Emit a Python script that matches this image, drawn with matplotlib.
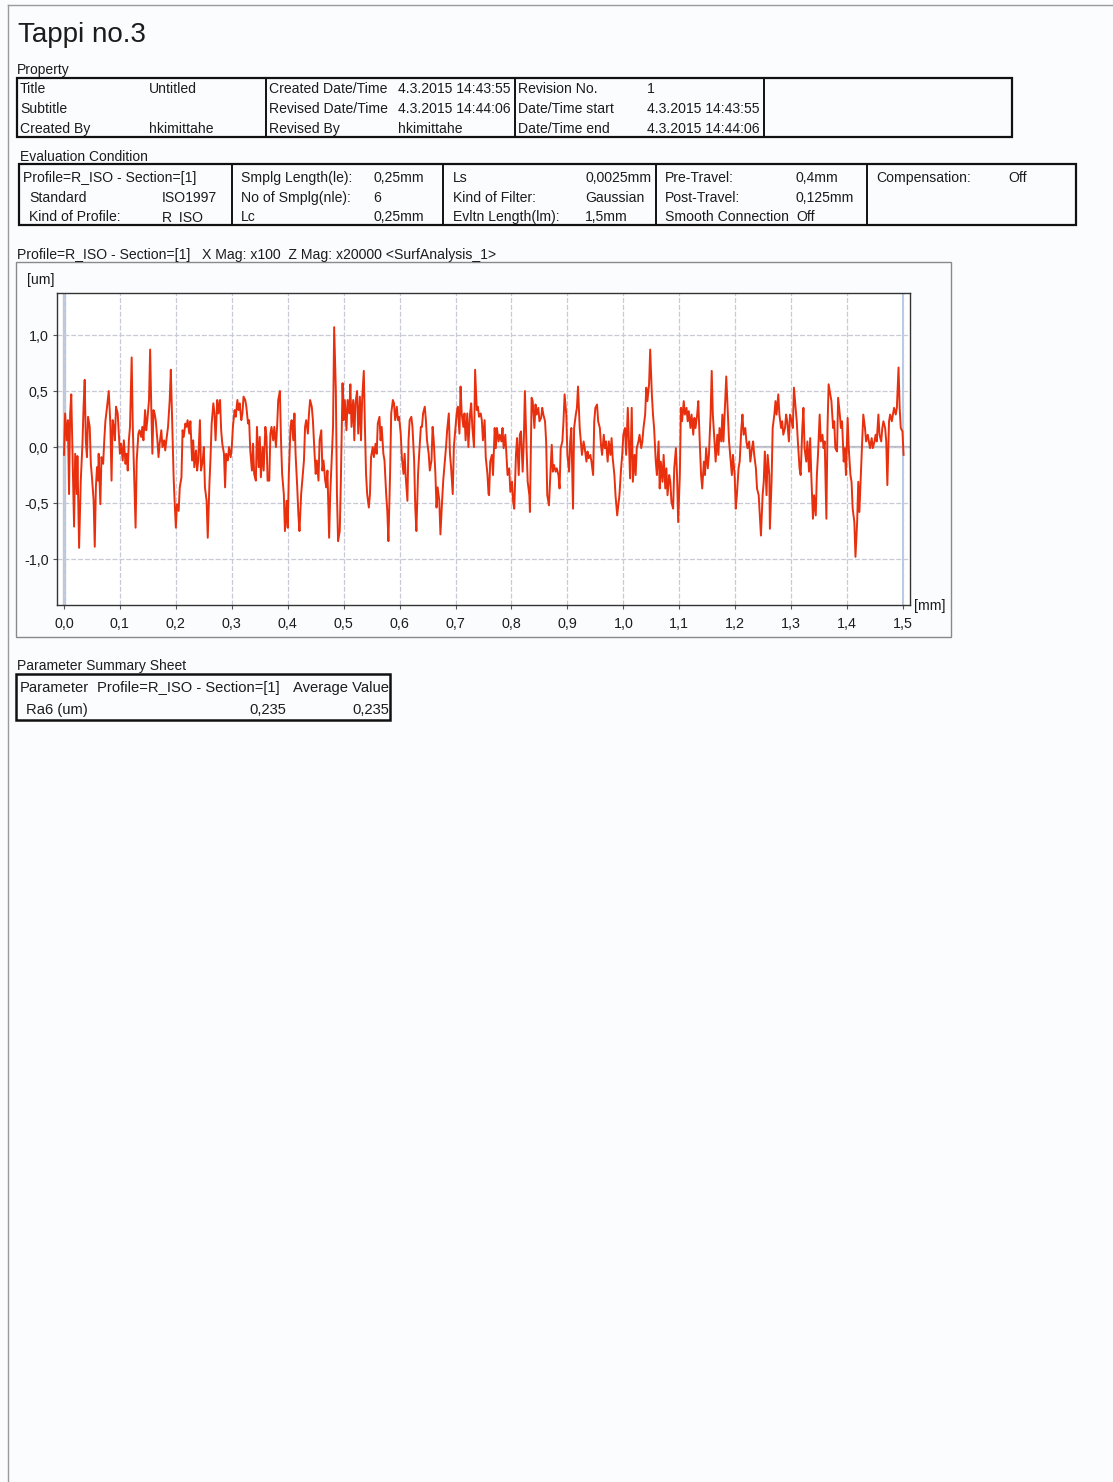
import matplotlib
matplotlib.use("Agg")
import matplotlib.pyplot as plt
from matplotlib.patches import Rectangle
import numpy as np

plt.rcParams['font.family'] = ['Liberation Sans', 'DejaVu Sans']

INK = "#1c1c1c"
LINE_RED = "#e8300f"

# --- document text ---
doc_title = "Tappi no.3"

prop_col1 = [("Title", "Untitled"), ("Subtitle", ""), ("Created By", "hkimittahe")]
prop_col2 = [("Created Date/Time", "4.3.2015 14:43:55"),
             ("Revised Date/Time", "4.3.2015 14:44:06"),
             ("Revised By", "hkimittahe")]
prop_col3 = [("Revision No.", "1"),
             ("Date/Time start", "4.3.2015 14:43:55"),
             ("Date/Time end", "4.3.2015 14:44:06")]

eval_head = "Profile=R_ISO - Section=[1]"
eval_col1 = [("Standard", "ISO1997"), ("Kind of Profile:", "R_ISO")]
eval_col2 = [("Smplg Length(le):", "0,25mm"), ("No of Smplg(nle):", "6"), ("Lc", "0,25mm")]
eval_col3 = [("Ls", "0,0025mm"), ("Kind of Filter:", "Gaussian"), ("Evltn Length(lm):", "1,5mm")]
eval_col4 = [("Pre-Travel:", "0,4mm"), ("Post-Travel:", "0,125mm"), ("Smooth Connection", "Off")]
eval_col5 = [("Compensation:", "Off")]

chart_caption = "Profile=R_ISO - Section=[1]   X Mag: x100  Z Mag: x20000 <SurfAnalysis_1>"

summary_header = ["Parameter", "Profile=R_ISO - Section=[1]", "Average Value"]
summary_param = "Ra6 (um)"
summary_section_value = "0,235"
summary_average_value = "0,235"

x_ticks = [0.0, 0.1, 0.2, 0.3, 0.4, 0.5, 0.6, 0.7, 0.8, 0.9, 1.0, 1.1, 1.2, 1.3, 1.4, 1.5]
x_tick_labels = ["0,0", "0,1", "0,2", "0,3", "0,4", "0,5", "0,6", "0,7",
                 "0,8", "0,9", "1,0", "1,1", "1,2", "1,3", "1,4", "1,5"]
y_ticks = [-1.0, -0.5, 0.0, 0.5, 1.0]
y_tick_labels = ["-1,0", "-0,5", "0,0", "0,5", "1,0"]

# --- roughness profile (x in mm, z in um) ---
profile_x_mm = [
    0.000, 0.002, 0.005, 0.007, 0.009, 0.011, 0.013, 0.016, 0.018, 0.020,
    0.023, 0.024, 0.027, 0.030, 0.033, 0.035, 0.037, 0.039, 0.041, 0.043,
    0.046, 0.048, 0.050, 0.053, 0.055, 0.057, 0.059, 0.061, 0.062, 0.065,
    0.067, 0.070, 0.072, 0.074, 0.077, 0.080, 0.082, 0.083, 0.085, 0.087,
    0.089, 0.091, 0.093, 0.096, 0.098, 0.100, 0.102, 0.105, 0.107, 0.110,
    0.112, 0.114, 0.116, 0.118, 0.121, 0.123, 0.126, 0.128, 0.130, 0.133,
    0.135, 0.138, 0.140, 0.142, 0.145, 0.147, 0.149, 0.152, 0.154, 0.156,
    0.158, 0.160, 0.162, 0.164, 0.167, 0.169, 0.171, 0.174, 0.176, 0.179,
    0.181, 0.183, 0.186, 0.189, 0.191, 0.194, 0.196, 0.198, 0.200, 0.202,
    0.205, 0.207, 0.210, 0.212, 0.214, 0.217, 0.219, 0.221, 0.224, 0.226,
    0.229, 0.231, 0.233, 0.236, 0.238, 0.240, 0.243, 0.245, 0.248, 0.250,
    0.252, 0.255, 0.257, 0.260, 0.262, 0.264, 0.267, 0.269, 0.271, 0.274,
    0.276, 0.279, 0.281, 0.283, 0.286, 0.288, 0.290, 0.293, 0.295, 0.298,
    0.300, 0.302, 0.305, 0.307, 0.310, 0.312, 0.314, 0.317, 0.319, 0.321,
    0.324, 0.326, 0.329, 0.331, 0.333, 0.336, 0.338, 0.340, 0.343, 0.345,
    0.348, 0.350, 0.352, 0.355, 0.357, 0.360, 0.362, 0.364, 0.367, 0.369,
    0.371, 0.374, 0.376, 0.379, 0.381, 0.383, 0.386, 0.388, 0.390, 0.393,
    0.395, 0.398, 0.400, 0.402, 0.405, 0.407, 0.410, 0.412, 0.414, 0.417,
    0.419, 0.421, 0.424, 0.426, 0.429, 0.431, 0.433, 0.436, 0.438, 0.440,
    0.443, 0.445, 0.448, 0.450, 0.452, 0.455, 0.457, 0.460, 0.462, 0.464,
    0.467, 0.469, 0.471, 0.474, 0.476, 0.479, 0.481, 0.483, 0.486, 0.488,
    0.490, 0.493, 0.495, 0.498, 0.500, 0.502, 0.505, 0.507, 0.510, 0.512,
    0.514, 0.517, 0.519, 0.521, 0.524, 0.526, 0.529, 0.531, 0.533, 0.536,
    0.538, 0.540, 0.542, 0.545, 0.547, 0.549, 0.552, 0.554, 0.557, 0.559,
    0.561, 0.564, 0.566, 0.568, 0.571, 0.573, 0.576, 0.578, 0.580, 0.583,
    0.585, 0.588, 0.590, 0.592, 0.595, 0.597, 0.599, 0.602, 0.604, 0.607,
    0.609, 0.611, 0.614, 0.616, 0.618, 0.621, 0.623, 0.626, 0.628, 0.630,
    0.633, 0.635, 0.638, 0.640, 0.642, 0.645, 0.647, 0.649, 0.652, 0.654,
    0.657, 0.659, 0.661, 0.664, 0.666, 0.668, 0.671, 0.673, 0.676, 0.678,
    0.680, 0.683, 0.685, 0.688, 0.690, 0.692, 0.695, 0.697, 0.699, 0.702,
    0.704, 0.707, 0.709, 0.711, 0.714, 0.716, 0.718, 0.721, 0.723, 0.726,
    0.728, 0.730, 0.733, 0.735, 0.738, 0.740, 0.742, 0.745, 0.747, 0.749,
    0.752, 0.754, 0.757, 0.759,
    0.760, 0.762, 0.765, 0.767, 0.770, 0.772, 0.774, 0.777, 0.779, 0.782,
    0.784, 0.786, 0.789, 0.791, 0.793, 0.796, 0.798, 0.801, 0.803, 0.805,
    0.808, 0.810, 0.813, 0.815, 0.817, 0.820, 0.822, 0.824, 0.827, 0.829,
    0.832, 0.833, 0.836, 0.838, 0.841, 0.843, 0.845, 0.848, 0.850, 0.853,
    0.855, 0.857, 0.860, 0.862, 0.864, 0.867, 0.869, 0.872, 0.874, 0.876,
    0.879, 0.881, 0.884, 0.886, 0.888, 0.891, 0.893, 0.895, 0.898, 0.900,
    0.903, 0.905, 0.907, 0.910, 0.912, 0.915, 0.917, 0.919, 0.922, 0.924,
    0.926, 0.929, 0.931, 0.934, 0.936, 0.938, 0.941, 0.943, 0.946, 0.948,
    0.950, 0.953, 0.955, 0.958, 0.960, 0.962, 0.965, 0.967, 0.969, 0.972,
    0.974, 0.977, 0.979, 0.981, 0.984, 0.986, 0.989, 0.991, 0.993, 0.996,
    0.998, 1.000, 1.003, 1.005, 1.008, 1.010, 1.012, 1.015, 1.017, 1.020,
    1.022, 1.024, 1.027, 1.029, 1.032, 1.034, 1.036, 1.039, 1.041, 1.043,
    1.046, 1.048, 1.051, 1.053, 1.055, 1.058, 1.060, 1.063, 1.065, 1.067,
    1.070, 1.072, 1.075, 1.077, 1.079, 1.082, 1.084, 1.086, 1.089, 1.091,
    1.094, 1.096, 1.098, 1.101, 1.103, 1.105, 1.108, 1.110, 1.113, 1.115,
    1.117, 1.120, 1.122, 1.125, 1.127, 1.129, 1.132, 1.134, 1.137, 1.139,
    1.141, 1.144, 1.146, 1.148, 1.151, 1.153, 1.156, 1.158, 1.160, 1.163,
    1.165, 1.168, 1.170, 1.172, 1.175, 1.177, 1.179, 1.182, 1.184, 1.187,
    1.189, 1.191, 1.194, 1.196, 1.199, 1.201, 1.203, 1.206, 1.208, 1.211,
    1.213, 1.215, 1.218, 1.220, 1.222, 1.225, 1.227, 1.230, 1.232, 1.234,
    1.237, 1.239, 1.242, 1.244, 1.246, 1.249, 1.251, 1.253, 1.256, 1.258,
    1.261, 1.262, 1.265, 1.267, 1.270, 1.272, 1.274, 1.277, 1.279, 1.282,
    1.284, 1.286, 1.289, 1.291, 1.293, 1.296, 1.298, 1.301, 1.303, 1.305,
    1.308, 1.310, 1.312, 1.315, 1.317, 1.320, 1.322, 1.324, 1.327, 1.329,
    1.332, 1.334, 1.336, 1.339, 1.341, 1.344, 1.346, 1.348, 1.351, 1.353,
    1.356, 1.358, 1.360, 1.363, 1.365, 1.367, 1.370, 1.372, 1.375, 1.377,
    1.379, 1.382, 1.384, 1.387, 1.389, 1.391, 1.394, 1.396, 1.398, 1.401,
    1.403, 1.406, 1.408, 1.410, 1.413, 1.415, 1.418, 1.420, 1.422, 1.425,
    1.427, 1.429, 1.432, 1.434, 1.437, 1.439, 1.441, 1.444, 1.446, 1.449,
    1.451, 1.453, 1.456, 1.458, 1.461, 1.463, 1.465, 1.468, 1.470, 1.472,
    1.475, 1.477, 1.480, 1.482, 1.484, 1.487, 1.489, 1.492, 1.494, 1.496,
    1.499, 1.501,
]
profile_z_um = [
    -0.07, 0.30, 0.06, 0.24, -0.42, 0.30, 0.47, -0.24, -0.71, -0.06,
    -0.42, -0.08, -0.90, -0.30, 0.03, 0.36, 0.60, 0.06, -0.09, 0.27,
    0.18, -0.15, -0.27, -0.48, -0.89, -0.36, -0.18, -0.30, -0.06, -0.51,
    -0.09, -0.15, 0.06, 0.23, 0.36, 0.50, 0.30, 0.18, -0.30, 0.24,
    0.18, 0.06, 0.36, 0.30, 0.12, -0.06, 0.03, -0.12, 0.06, -0.15,
    -0.06, -0.21, 0.06, 0.18, 0.80, 0.18, -0.36, -0.72, -0.12, 0.12,
    0.15, 0.09, 0.18, 0.06, 0.33, 0.15, 0.24, 0.42, 0.87, 0.36,
    -0.06, 0.33, 0.30, 0.24, 0.06, -0.09, 0.03, 0.15, 0.00, 0.06,
    -0.03, 0.06, 0.18, 0.42, 0.69, 0.12, -0.27, -0.51, -0.72, -0.51,
    -0.57, -0.36, -0.27, 0.15, 0.09, 0.21, 0.18, 0.24, 0.12, 0.23,
    -0.12, 0.06, -0.18, -0.03, -0.21, -0.12, 0.24, -0.21, -0.12, 0.00,
    -0.36, -0.48, -0.81, -0.33, -0.09, 0.21, 0.39, 0.30, 0.06, 0.42,
    0.30, 0.42, 0.15, 0.03, -0.06, -0.36, -0.06, -0.12, 0.00, -0.09,
    0.00, 0.18, 0.33, 0.27, 0.42, 0.33, 0.39, 0.24, 0.30, 0.45,
    0.42, 0.36, 0.21, 0.24, -0.03, -0.21, 0.03, -0.24, -0.30, 0.18,
    -0.18, 0.09, -0.27, 0.00, -0.21, 0.18, 0.09, -0.30, -0.30, 0.12,
    0.18, 0.06, 0.18, 0.00, 0.18, 0.42, 0.50, 0.06, -0.24, -0.42,
    -0.75, -0.48, -0.72, -0.24, 0.18, 0.24, 0.06, 0.30, -0.06, -0.36,
    -0.60, -0.75, -0.42, -0.30, -0.12, 0.18, 0.24, 0.12, 0.30, 0.42,
    0.36, 0.24, -0.06, -0.24, -0.12, -0.30, 0.06, 0.15, -0.21, -0.12,
    -0.30, -0.36, -0.21, -0.81, -0.42, -0.06, 0.18, 1.07, 0.51, -0.42,
    -0.84, -0.75, -0.30, 0.57, 0.24, 0.42, 0.15, 0.42, 0.30, 0.56,
    0.18, 0.42, 0.06, 0.39, 0.50, 0.12, 0.45, 0.06, 0.42, 0.68,
    0.18, -0.24, -0.42, -0.54, -0.42, -0.09, 0.00, -0.09, 0.03, -0.06,
    0.21, 0.27, 0.06, 0.18, -0.06, -0.12, -0.42, -0.57, -0.84, -0.24,
    0.30, 0.42, 0.39, 0.24, 0.36, 0.24, 0.27, 0.12, -0.09, -0.24,
    -0.06, -0.27, -0.48, 0.06, 0.24, 0.27, 0.18, -0.12, -0.54, -0.75,
    -0.24, -0.06, 0.18, 0.18, 0.30, 0.36, 0.24, 0.06, -0.06, -0.21,
    -0.12, 0.18, 0.06, -0.24, -0.54, -0.36, -0.48, -0.78, -0.48, -0.30,
    -0.18, 0.00, 0.15, 0.30, -0.06, -0.18, -0.42, 0.00, 0.12, 0.30,
    0.36, 0.12, 0.54, 0.30, 0.18, 0.30, 0.06, 0.30, 0.00, 0.30,
    0.39, 0.18, 0.00, 0.69, 0.33, 0.36, 0.27, 0.30, 0.24, 0.06,
    0.24, -0.09, -0.24, -0.42,
    -0.43, -0.13, -0.07, -0.25, 0.17, -0.01, 0.17, 0.05, 0.11, 0.05,
    0.17, -0.01, 0.11, -0.07, -0.25, -0.19, -0.40, -0.31, -0.49, -0.55,
    -0.07, 0.08, -0.25, 0.11, 0.14, -0.22, 0.05, 0.50, -0.01, -0.31,
    -0.43, -0.58, 0.44, 0.41, 0.17, 0.38, 0.29, 0.35, 0.23, 0.26,
    0.35, 0.29, 0.23, 0.05, -0.43, -0.52, -0.31, 0.02, -0.22, -0.16,
    -0.22, -0.19, -0.25, -0.37, -0.01, 0.05, 0.23, 0.47, 0.29, -0.07,
    -0.22, 0.05, 0.17, -0.55, 0.17, 0.29, 0.35, 0.54, 0.17, 0.05,
    -0.07, 0.05, -0.01, -0.13, -0.04, -0.10, -0.07, -0.13, -0.25, 0.23,
    0.35, 0.38, 0.23, 0.17, 0.02, -0.07, 0.11, -0.01, 0.05, -0.13,
    0.05, -0.07, 0.08, -0.10, -0.25, -0.43, -0.61, -0.52, -0.43, -0.19,
    -0.07, 0.11, 0.17, -0.07, 0.35, 0.05, -0.28, 0.35, -0.31, -0.07,
    -0.25, -0.01, 0.05, 0.11, -0.01, 0.05, 0.17, 0.29, 0.53, 0.41,
    0.56, 0.87, 0.47, 0.29, 0.17, -0.13, -0.25, 0.05, -0.37, -0.13,
    -0.31, -0.07, -0.37, -0.19, -0.43, -0.25, -0.31, -0.49, -0.55, -0.19,
    -0.01, -0.25, -0.67, -0.25, 0.35, 0.23, 0.41, 0.29, 0.35, 0.23,
    0.32, 0.17, 0.29, 0.11, 0.26, 0.17, 0.29, 0.41, -0.01, -0.25,
    -0.37, -0.13, -0.25, -0.01, -0.19, -0.07, 0.29, 0.68, 0.29, 0.05,
    -0.13, 0.11, -0.07, 0.17, 0.05, 0.29, 0.05, 0.41, 0.63, 0.29,
    0.05, -0.07, -0.25, -0.07, -0.25, -0.55, -0.43, -0.19, -0.13, 0.17,
    0.29, 0.11, 0.17, 0.05, -0.01, 0.05, -0.13, -0.01, 0.05, -0.07,
    -0.19, -0.37, -0.43, -0.61, -0.79, -0.43, -0.31, -0.04, -0.43, -0.07,
    -0.25, -0.73, -0.31, 0.17, 0.29, 0.41, 0.29, 0.47, 0.29, 0.17,
    0.23, 0.11, 0.17, 0.29, 0.23, 0.05, 0.29, 0.23, 0.17, 0.53,
    0.35, 0.23, 0.05, -0.19, -0.25, 0.17, 0.35, -0.01, -0.13, 0.05,
    -0.22, 0.08, -0.25, -0.64, -0.43, -0.61, -0.25, -0.07, 0.29, 0.05,
    0.11, -0.01, 0.05, -0.64, 0.17, 0.56, 0.47, 0.41, 0.17, 0.23,
    -0.01, -0.04, 0.44, 0.29, 0.17, 0.23, -0.13, -0.01, -0.25, 0.26,
    -0.01, -0.25, -0.31, -0.55, -0.67, -0.98, -0.67, -0.31, -0.58, -0.19,
    0.05, 0.29, 0.17, 0.05, 0.11, 0.05, -0.01, 0.08, -0.01, 0.05,
    0.11, 0.05, 0.29, 0.11, 0.05, 0.17, 0.23, 0.17, 0.05, -0.34,
    0.23, 0.29, 0.23, 0.29, 0.35, 0.29, 0.35, 0.71, 0.35, 0.17,
    0.14, -0.07,
]

# ------------------------------------------------------------------
W, H = 1113, 1482
fig = plt.figure(figsize=(W / 100, H / 100), dpi=100)
fig.patch.set_facecolor("#fbfcfd")

# page layer in pixel coords (y down)
page = fig.add_axes([0, 0, 1, 1])
page.set_xlim(0, W)
page.set_ylim(H, 0)
page.axis("off")

TS = 10.1   # table / caption text size


def txt(x, y, s, size=TS, ha="left", **kw):
    page.text(x, y, s, fontsize=size, ha=ha, va="center", color=INK, **kw)


def box(x0, y0, x1, y1, lw=1.6, ec="#111111"):
    page.add_patch(Rectangle((x0, y0), x1 - x0, y1 - y0, fill=False,
                             lw=lw, ec=ec, zorder=2))


def vline(x, y0, y1, lw=1.4):
    page.plot([x, x], [y0, y1], color="#111111", lw=lw)


# scan edges
page.plot([8, W], [5, 5], color="#9a9a9a", lw=1.0)
page.plot([8, 8], [5, H], color="#9a9a9a", lw=1.0)

txt(18, 35, doc_title, size=20)

# --- Property table ---
txt(17, 70, "Property", size=10)
box(17, 78, 1012, 137)
for xd in (266, 515, 764):
    vline(xd, 78, 137)
rows_y = [89, 109, 129]
for (lab, val), y in zip(prop_col1, rows_y):
    txt(20, y, lab)
    txt(149, y, val)
for (lab, val), y in zip(prop_col2, rows_y):
    txt(269, y, lab)
    txt(398, y, val)
for (lab, val), y in zip(prop_col3, rows_y):
    txt(518, y, lab)
    txt(647, y, val)

# --- Evaluation condition table ---
txt(20, 157, "Evaluation Condition", size=10)
box(19, 164, 1076, 225)
for xd in (232, 443, 656, 867):
    vline(xd, 164, 225)
ev_y = [178, 198, 217]
txt(23, ev_y[0], eval_head)
for (lab, val), y in zip(eval_col1, ev_y[1:]):
    txt(29, y, lab)
    txt(162, y, val)
for (lab, val), y in zip(eval_col2, ev_y):
    txt(241, y, lab)
    txt(373, y, val)
for (lab, val), y in zip(eval_col3, ev_y):
    txt(453, y, lab)
    txt(585, y, val)
for (lab, val), y in zip(eval_col4, ev_y):
    txt(665, y, lab)
    txt(796, y, val)
for (lab, val), y in zip(eval_col5, ev_y):
    txt(876, y, lab)
    txt(1008, y, val)

# --- chart frame & captions ---
txt(17, 255, chart_caption)
box(16, 262, 951, 637, lw=1.0, ec="#8a8a8a")
txt(27, 280, "[um]")
txt(914, 606, "[mm]")

# --- profile axes ---
L, R, T, B = 57, 910, 293, 605
ax = fig.add_axes([L / W, 1 - B / H, (R - L) / W, (B - T) / H])
ax.set_facecolor("white")
ax.set_xlim(-0.0125, 1.5125)
ax.set_ylim(-1.41, 1.375)

ax.set_xticks(x_ticks)
ax.set_xticklabels(x_tick_labels)
ax.set_yticks(y_ticks)
ax.set_yticklabels(y_tick_labels)
ax.tick_params(axis="both", labelsize=10.3, colors="#555555", labelcolor=INK,
               length=3, width=0.8)
ax.tick_params(axis="x", pad=6)
ax.tick_params(axis="y", pad=3)
ax.grid(True, color="#c8cbd6", lw=0.9, ls=(0, (4, 1.5)))
ax.axhline(0.0, color="#b9bcc6", lw=1.6, zorder=1)
ax.axvline(0.0, color="#b4c8e6", lw=2.4, zorder=1)
ax.axvline(1.5, color="#b4c8e6", lw=1.4, zorder=1)
for sp in ax.spines.values():
    sp.set_color("#333333")
    sp.set_linewidth(1.0)

ax.plot(profile_x_mm, profile_z_um, color=LINE_RED, lw=1.4, zorder=3)

# --- parameter summary sheet ---
SS = 10.6
txt(17, 666, "Parameter Summary Sheet", size=10)
box(16, 674, 390, 720, lw=1.8)
txt(20, 688, summary_header[0], size=SS)
txt(97, 688, summary_header[1], size=SS)
txt(389, 688, summary_header[2], size=SS, ha="right")
txt(26, 710, summary_param, size=SS)
txt(286, 710, summary_section_value, size=SS, ha="right")
txt(389, 710, summary_average_value, size=SS, ha="right")

fig.savefig("out.png", dpi=100, facecolor=fig.get_facecolor())
